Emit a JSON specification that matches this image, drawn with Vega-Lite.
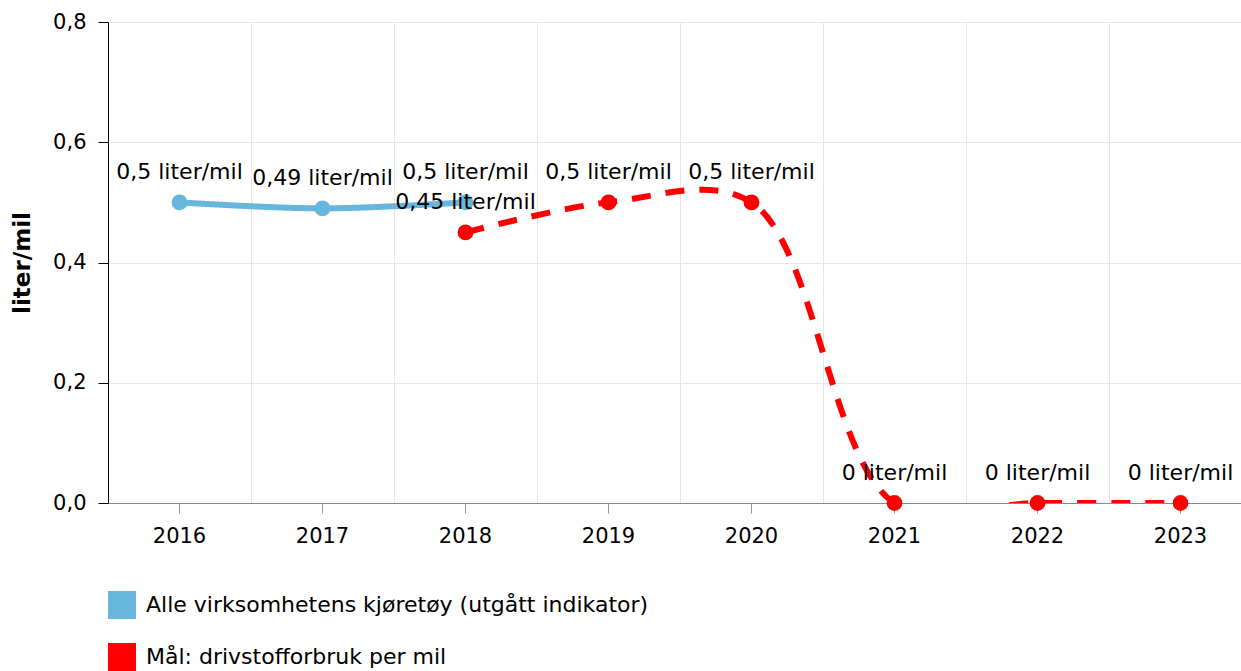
{
  "$schema": "https://vega.github.io/schema/vega-lite/v6.json",
  "width": 1133,
  "height": 481,
  "autosize": {"type": "none"},
  "padding": {"left": 108, "top": 22, "right": 0, "bottom": 168},
  "config": {"font": "DejaVu Sans", "view": {"stroke": null}},
  "data": {
    "values": [
      {"series": "Alle virksomhetens kjøretøy (utgått indikator)", "year": "2016", "value": 0.5, "label": "0,5 liter/mil"},
      {"series": "Alle virksomhetens kjøretøy (utgått indikator)", "year": "2017", "value": 0.49, "label": "0,49 liter/mil"},
      {"series": "Alle virksomhetens kjøretøy (utgått indikator)", "year": "2018", "value": 0.5, "label": "0,5 liter/mil"},
      {"series": "Mål: drivstofforbruk per mil", "year": "2018", "value": 0.45, "label": "0,45 liter/mil"},
      {"series": "Mål: drivstofforbruk per mil", "year": "2019", "value": 0.5, "label": "0,5 liter/mil"},
      {"series": "Mål: drivstofforbruk per mil", "year": "2020", "value": 0.5, "label": "0,5 liter/mil"},
      {"series": "Mål: drivstofforbruk per mil", "year": "2021", "value": 0, "label": "0 liter/mil"},
      {"series": "Mål: drivstofforbruk per mil", "year": "2022", "value": 0, "label": "0 liter/mil"},
      {"series": "Mål: drivstofforbruk per mil", "year": "2023", "value": 0, "label": "0 liter/mil"}
    ]
  },
  "encoding": {
    "y": {
      "field": "value",
      "type": "quantitative",
      "scale": {"domain": [0, 0.8], "nice": false, "zero": true},
      "axis": {
        "title": "liter/mil",
        "titleFontSize": 23,
        "titleFontWeight": "bold",
        "titleColor": "#000000",
        "titlePadding": 18,
        "values": [0, 0.2, 0.4, 0.6, 0.8],
        "labelExpr": "replace(format(datum.value, '.1f'), '.', ',')",
        "labelFontSize": 21,
        "labelColor": "#000000",
        "labelPadding": 12,
        "tickSize": 10,
        "tickColor": "#000000",
        "domainColor": "#000000",
        "gridColor": "#e6e6e6",
        "grid": true
      }
    }
  },
  "resolve": {"axis": {"x": "independent"}},
  "layer": [
    {
      "mark": {"type": "point", "opacity": 0},
      "encoding": {
        "x": {
          "field": "year",
          "type": "ordinal",
          "scale": {"type": "band", "paddingInner": 0, "paddingOuter": 0, "range": [0, 1144]},
          "axis": {"title": null, "orient": "bottom", "grid": true, "bandPosition": 0, "gridColor": "#e6e6e6", "labels": false, "ticks": false, "domain": false}
        }
      }
    },
    {
      "encoding": {
        "x": {
          "field": "year",
          "type": "ordinal",
          "scale": {"type": "band", "paddingInner": 0, "paddingOuter": 0, "range": [0, 1144]},
          "axis": {
            "title": null,
            "orient": "bottom",
            "grid": false,
            "labelAngle": 0,
            "labelFontSize": 21,
            "labelColor": "#000000",
            "labelPadding": 12,
            "tickSize": 10,
            "tickColor": "#999999",
            "domainColor": "#888888"
          }
        }
      },
      "layer": [
        {
          "mark": {"type": "line", "interpolate": "catmull-rom", "strokeWidth": 6, "clip": true},
          "encoding": {
            "color": {
              "field": "series",
              "type": "nominal",
              "scale": {"domain": ["Alle virksomhetens kjøretøy (utgått indikator)", "Mål: drivstofforbruk per mil"], "range": ["#67b7dc", "#ff0000"]},
              "legend": {
                "title": null,
                "orient": "none",
                "legendX": 0,
                "legendY": 569,
                "direction": "vertical",
                "symbolType": "square",
                "symbolSize": 784,
                "symbolStrokeWidth": 0,
                "labelFontSize": 22,
                "labelColor": "#000000",
                "labelLimit": 0,
                "labelOffset": 10,
                "rowPadding": 24,
                "encode": {"symbols": {"update": {"fill": {"scale": "color", "field": "value"}, "strokeWidth": {"value": 0}, "shape": {"value": "square"}, "opacity": {"value": 1}}}}
              }
            },
            "strokeDash": {
              "field": "series",
              "type": "nominal",
              "scale": {"domain": ["Alle virksomhetens kjøretøy (utgått indikator)", "Mål: drivstofforbruk per mil"], "range": [[1, 0], [19, 15]]},
              "legend": null
            }
          }
        },
        {
          "mark": {"type": "point", "filled": true, "size": 250, "opacity": 1},
          "encoding": {
            "color": {
              "field": "series",
              "type": "nominal",
              "legend": {
                "title": null,
                "orient": "none",
                "legendX": 0,
                "legendY": 569,
                "direction": "vertical",
                "symbolType": "square",
                "symbolSize": 784,
                "symbolStrokeWidth": 0,
                "labelFontSize": 22,
                "labelColor": "#000000",
                "labelLimit": 0,
                "labelOffset": 10,
                "rowPadding": 24,
                "encode": {"symbols": {"update": {"fill": {"scale": "color", "field": "value"}, "strokeWidth": {"value": 0}, "shape": {"value": "square"}, "opacity": {"value": 1}}}}
              }
            }
          }
        },
        {
          "mark": {"type": "text", "dy": -30, "fontSize": 22, "color": "#000000", "baseline": "middle", "align": "center"},
          "encoding": {"text": {"field": "label"}}
        }
      ]
    }
  ]
}
